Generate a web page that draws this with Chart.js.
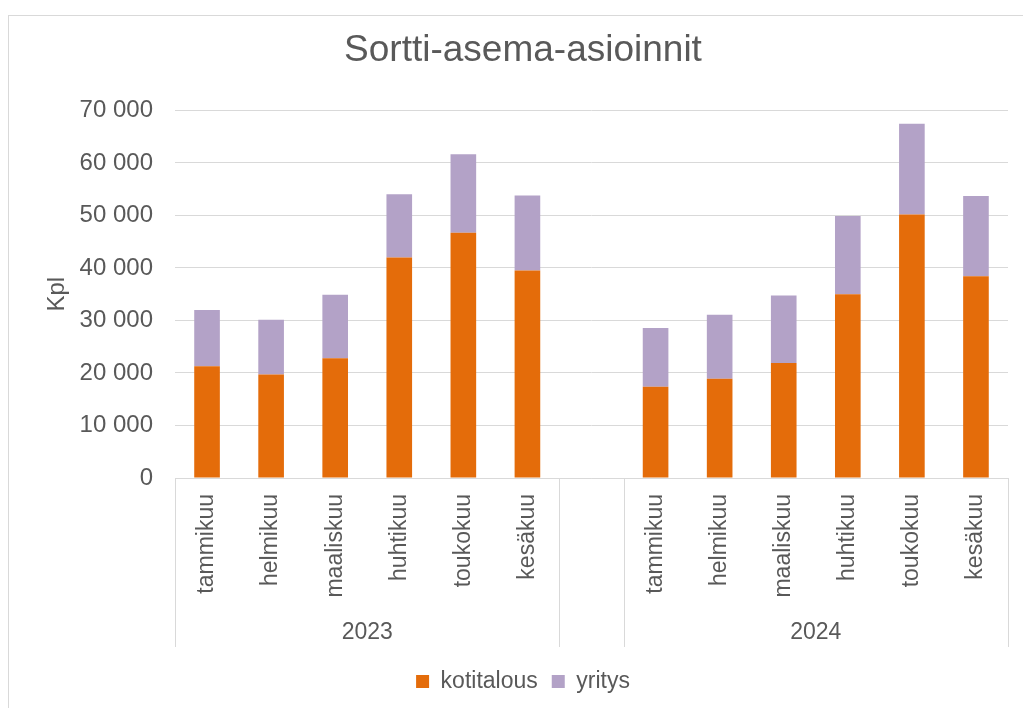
<!DOCTYPE html>
<html>
<head>
<meta charset="utf-8">
<script src="https://cdn.jsdelivr.net/npm/chart.js@4"></script>
<style>
  html, body { margin: 0; background: #fff; }
  #kehys { position: absolute; left: 8px; top: 15px; width: 1040px; height: 720px; border: 1px solid #d9d9d9; }
  #wrap { position: absolute; left: 0; top: 0; width: 1023px; height: 708px; }
</style>
</head>
<body>
<div id="kehys"></div>
<div id="wrap"><canvas id="kaavio" width="1023" height="708"></canvas></div>
<script>
// Kuukaudet ja vuodet (kaksitasoinen luokka-akseli)
const kuukaudet = ["tammikuu", "helmikuu", "maaliskuu", "huhtikuu", "toukokuu", "kesäkuu"];
const vuodet = ["2023", "2024"];

// Asioinnit kuukausittain
const kotitalous2023 = [21300, 19700, 22800, 42000, 46700, 39500];
const yritys2023 = [10700, 10450, 12100, 12050, 14950, 14300];
const kotitalous2024 = [17400, 18900, 21900, 35000, 50200, 38400];
const yritys2024 = [11150, 12200, 12850, 14900, 17250, 15300];

const harmaa = "#595959";
const fontti = "'Liberation Sans', Arial, sans-serif";

// Vuosien väliin tyhjä sarake kuten alkuperäisessä
const etiquetas = [...kuukaudet, "", ...kuukaudet];
const kotitalous = [...kotitalous2023, null, ...kotitalous2024];
const yritys = [...yritys2023, null, ...yritys2024];

// Piirtää vuositason: erotinviivat ja vuosiluvut
const vuosiTaso = {
  id: "vuosiTaso",
  afterDraw(chart) {
    const x = chart.scales.x;
    const ctx = chart.ctx;
    const ala = chart.chartArea.bottom;
    const puoli = (x.getPixelForValue(1) - x.getPixelForValue(0)) / 2;
    const rajat = [0, kuukaudet.length, kuukaudet.length + 1, etiquetas.length];

    ctx.save();
    ctx.strokeStyle = "#d9d9d9";
    ctx.lineWidth = 1;
    // akseliviiva
    ctx.beginPath();
    ctx.moveTo(x.left, ala + 0.5);
    ctx.lineTo(x.right, ala + 0.5);
    ctx.stroke();
    rajat.forEach(function (i) {
      const px = Math.round(x.getPixelForValue(i) - puoli) + 0.5;
      ctx.beginPath();
      ctx.moveTo(px, ala);
      ctx.lineTo(px, ala + 169);
      ctx.stroke();
    });

    ctx.fillStyle = harmaa;
    ctx.font = "23px " + fontti;
    ctx.textAlign = "center";
    ctx.textBaseline = "middle";
    vuodet.forEach(function (v, j) {
      const alku = j * (kuukaudet.length + 1);
      const loppu = alku + kuukaudet.length - 1;
      const keski = (x.getPixelForValue(alku) + x.getPixelForValue(loppu)) / 2;
      ctx.fillText(v, keski, ala + 155);
    });
    ctx.restore();
  }
};

const ctx = document.getElementById("kaavio").getContext("2d");

new Chart(ctx, {
  type: "bar",
  data: {
    labels: etiquetas,
    datasets: [
      {
        label: "kotitalous",
        data: kotitalous,
        backgroundColor: "#E46C0A",
        barPercentage: 0.4,
        categoryPercentage: 1
      },
      {
        label: "yritys",
        data: yritys,
        backgroundColor: "#B3A2C7",
        barPercentage: 0.4,
        categoryPercentage: 1
      }
    ]
  },
  options: {
    responsive: false,
    devicePixelRatio: 1,
    animation: false,
    layout: { padding: { left: 38, right: 15, top: 15, bottom: 5 } },
    plugins: {
      title: {
        display: true,
        text: "Sortti-asema-asioinnit",
        color: harmaa,
        font: { family: fontti, size: 37, weight: "normal" },
        padding: { top: 14, bottom: 37 }
      },
      legend: {
        position: "bottom",
        labels: {
          color: harmaa,
          boxWidth: 13,
          boxHeight: 13,
          padding: 14,
          font: { family: fontti, size: 23 }
        }
      },
      tooltip: { enabled: false }
    },
    scales: {
      x: {
        stacked: true,
        grid: { display: false },
        border: { display: false },
        ticks: {
          color: harmaa,
          font: { family: fontti, size: 23 },
          minRotation: 90,
          maxRotation: 90,
          autoSkip: false,
          padding: 8
        },
        afterFit: function (s) { s.height = 178; }
      },
      y: {
        stacked: true,
        min: 0,
        max: 70000,
        grid: { color: "#d9d9d9", drawTicks: false },
        border: { display: false },
        ticks: {
          stepSize: 10000,
          color: harmaa,
          padding: 22,
          font: { family: fontti, size: 24 },
          callback: function (v) {
            return String(v).replace(/\B(?=(\d{3})+(?!\d))/g, " ");
          }
        },
        title: {
          display: true,
          text: "Kpl",
          color: harmaa,
          font: { family: fontti, size: 24 },
          padding: { top: 5, bottom: 0 }
        },
        afterFit: function (s) { s.width = 137; }
      }
    }
  },
  plugins: [vuosiTaso]
});
</script>
</body>
</html>
